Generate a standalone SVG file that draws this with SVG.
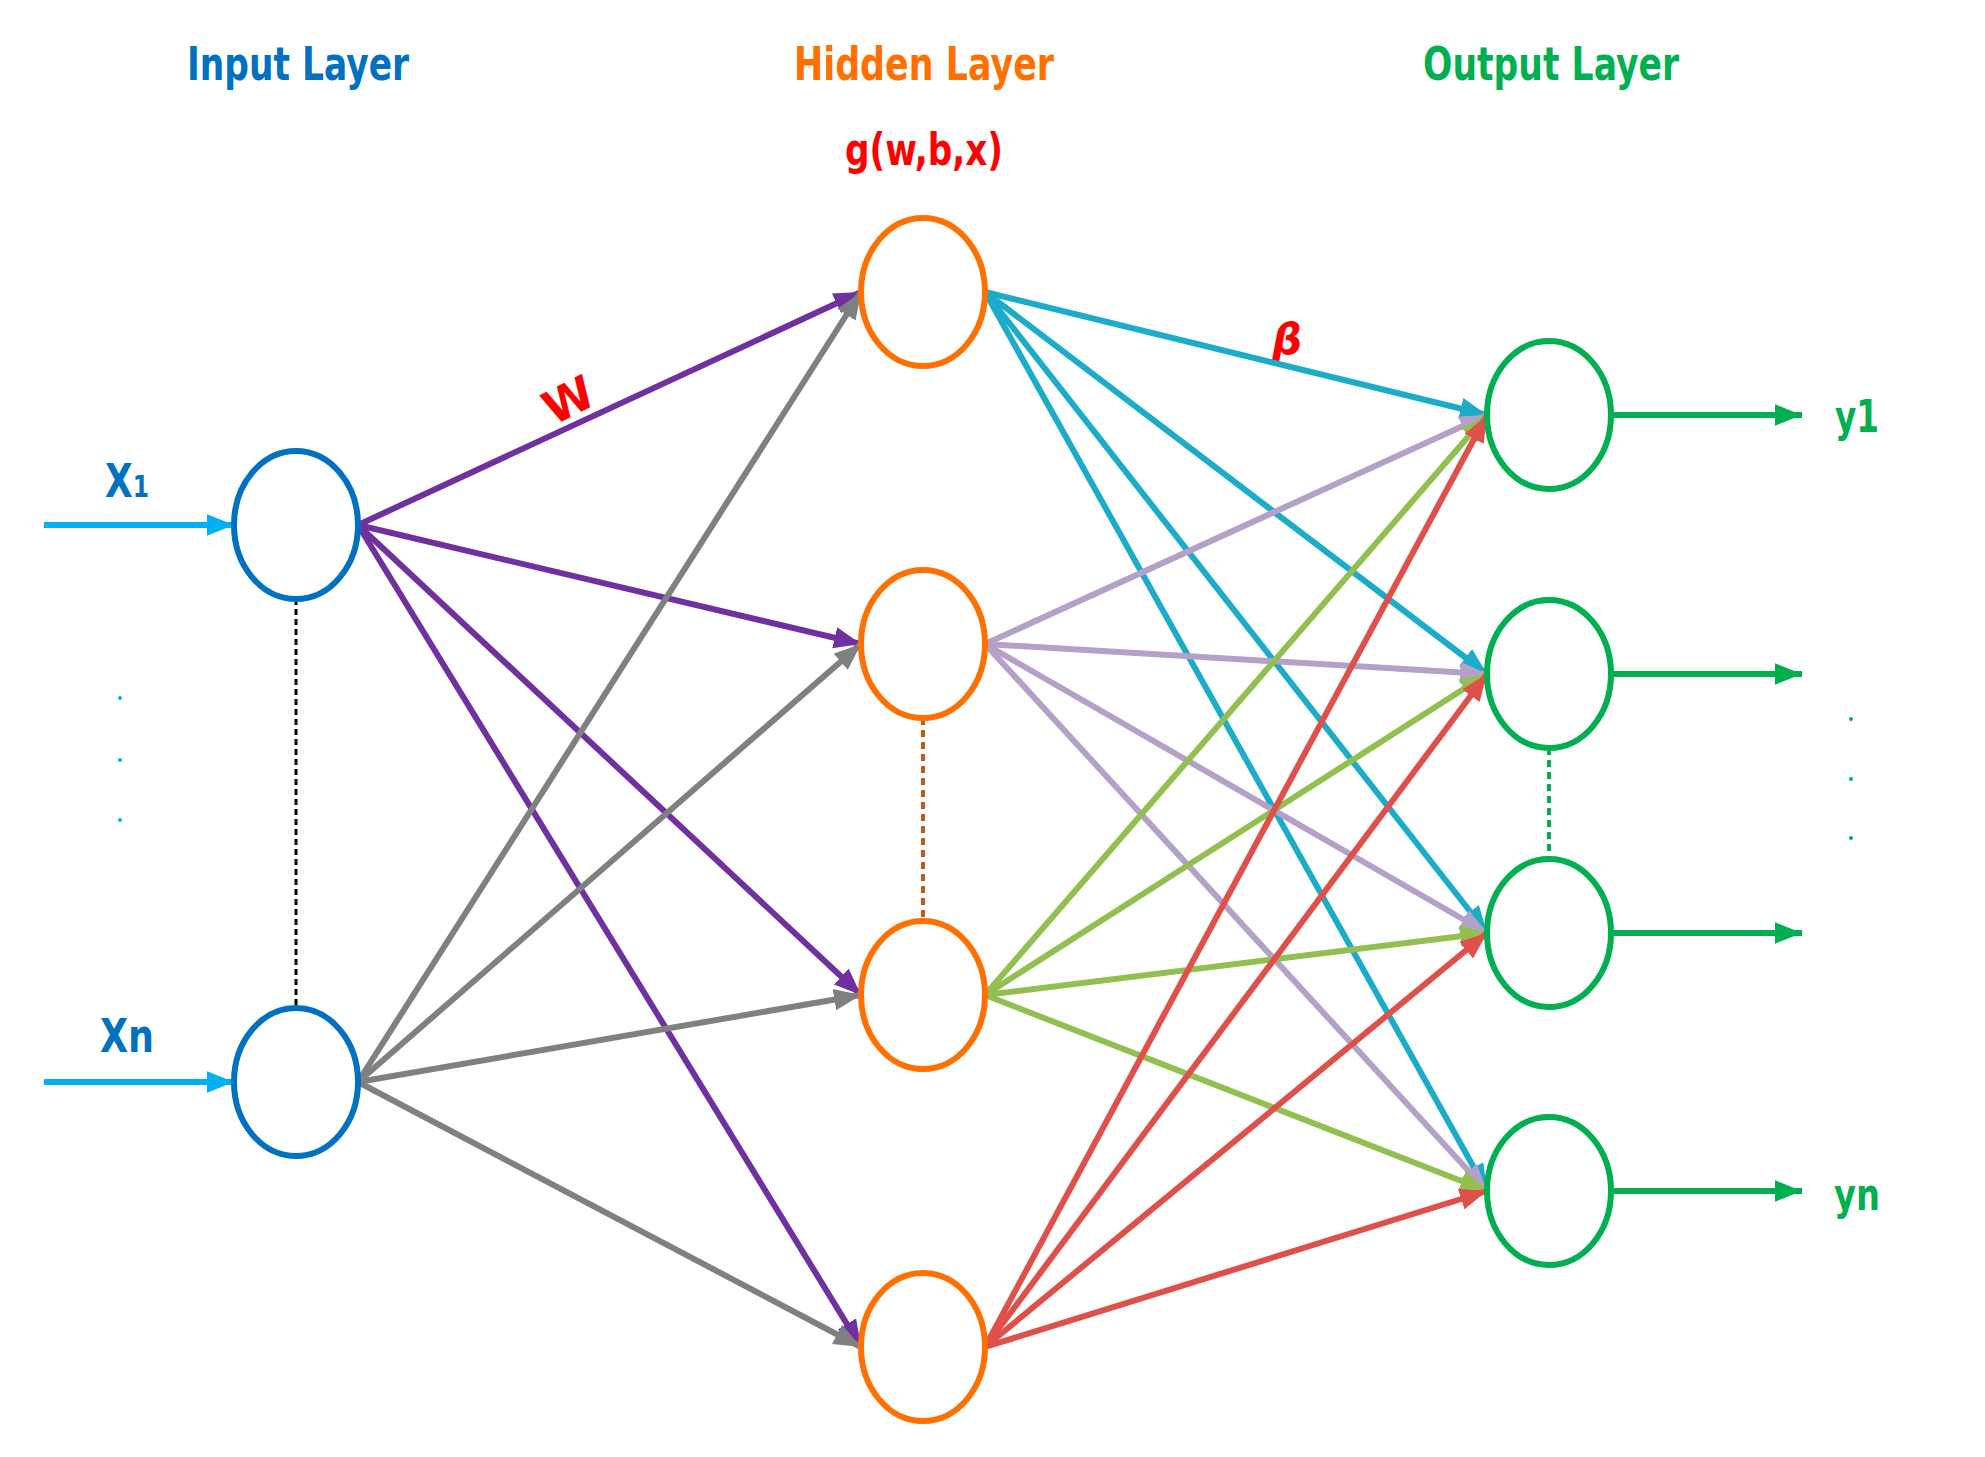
<svg xmlns="http://www.w3.org/2000/svg" width="1985" height="1457" viewBox="0 0 1985 1457">
<style>
.t{font-family:"DejaVu Sans","Liberation Sans",sans-serif;font-weight:bold;text-anchor:middle}
.n{fill:none;stroke-width:6}
.e{stroke-width:6;fill:none}
</style>
<defs>
<marker id="mP" markerWidth="4.5" markerHeight="3.6" refX="4.5" refY="1.8" orient="auto"><path d="M0,0L4.5,1.8L0,3.6z" fill="#7030A0"/></marker>
<marker id="mG" markerWidth="4.5" markerHeight="3.6" refX="4.5" refY="1.8" orient="auto"><path d="M0,0L4.5,1.8L0,3.6z" fill="#808080"/></marker>
<marker id="mT" markerWidth="4.5" markerHeight="3.6" refX="4.5" refY="1.8" orient="auto"><path d="M0,0L4.5,1.8L0,3.6z" fill="#1AACC8"/></marker>
<marker id="mL" markerWidth="4.5" markerHeight="3.6" refX="4.5" refY="1.8" orient="auto"><path d="M0,0L4.5,1.8L0,3.6z" fill="#B4A0C8"/></marker>
<marker id="mV" markerWidth="4.5" markerHeight="3.6" refX="4.5" refY="1.8" orient="auto"><path d="M0,0L4.5,1.8L0,3.6z" fill="#92C050"/></marker>
<marker id="mR" markerWidth="4.5" markerHeight="3.6" refX="4.5" refY="1.8" orient="auto"><path d="M0,0L4.5,1.8L0,3.6z" fill="#E0504A"/></marker>
<marker id="mB" markerWidth="4.5" markerHeight="3.6" refX="4.5" refY="1.8" orient="auto"><path d="M0,0L4.5,1.8L0,3.6z" fill="#00B0F0"/></marker>
<marker id="mO" markerWidth="4.5" markerHeight="3.6" refX="4.5" refY="1.8" orient="auto"><path d="M0,0L4.5,1.8L0,3.6z" fill="#00B050"/></marker>
</defs>
<g id="labels">
<text class="t" x="298" y="80" font-size="46" fill="#0070C0" textLength="222" lengthAdjust="spacingAndGlyphs">Input Layer</text>
<text class="t" x="924" y="80" font-size="46" fill="#FF7000" textLength="260" lengthAdjust="spacingAndGlyphs">Hidden Layer</text>
<text class="t" x="1551" y="80" font-size="46" fill="#00B050" textLength="256" lengthAdjust="spacingAndGlyphs">Output Layer</text>
<text class="t" x="924" y="165" font-size="44" fill="#FF0000" textLength="158" lengthAdjust="spacingAndGlyphs">g(w,b,x)</text>
<text class="t" x="570" y="416" font-size="46" fill="#FF0000" transform="rotate(-27 570 403)">W</text>
<text class="t" x="1287" y="354" font-size="42" fill="#FF0000" font-style="italic">β</text>
<text class="t" x="127" y="497" font-size="46" fill="#0070C0" textLength="44" lengthAdjust="spacingAndGlyphs">X<tspan font-size="30">1</tspan></text>
<text class="t" x="127" y="1052" font-size="46" fill="#0070C0" textLength="54" lengthAdjust="spacingAndGlyphs">Xn</text>
<text class="t" x="1857" y="432" font-size="44" fill="#00B050" textLength="44" lengthAdjust="spacingAndGlyphs">y1</text>
<text class="t" x="1857" y="1210" font-size="44" fill="#00B050" textLength="46" lengthAdjust="spacingAndGlyphs">yn</text>
<g fill="#00B0F0"><circle cx="120" cy="698" r="2"/><circle cx="120" cy="760" r="2"/><circle cx="120" cy="820" r="2"/></g>
<g fill="#00B050"><circle cx="1851" cy="719" r="2"/><circle cx="1851" cy="779" r="2"/><circle cx="1851" cy="838" r="2"/></g>
</g>
<g id="connectors">
<line x1="296" y1="599" x2="296" y2="1008" stroke="#000" stroke-width="3" stroke-dasharray="6,4"/>
<line x1="923" y1="718" x2="923" y2="921" stroke="#C55A11" stroke-width="4" stroke-dasharray="7,5"/>
<line x1="1549" y1="748" x2="1549" y2="859" stroke="#00B050" stroke-width="4" stroke-dasharray="7,5"/>
<g class="e" stroke="#00B0F0"><line x1="44" y1="525" x2="234" y2="525" marker-end="url(#mB)"/><line x1="44" y1="1082" x2="234" y2="1082" marker-end="url(#mB)"/></g>
<g class="e" stroke="#00B050"><line x1="1611" y1="415" x2="1802" y2="415" marker-end="url(#mO)"/><line x1="1611" y1="674" x2="1802" y2="674" marker-end="url(#mO)"/><line x1="1611" y1="933" x2="1802" y2="933" marker-end="url(#mO)"/><line x1="1611" y1="1191" x2="1802" y2="1191" marker-end="url(#mO)"/></g>
<g class="e" stroke="#7030A0"><line x1="358" y1="525" x2="861" y2="292" marker-end="url(#mP)"/><line x1="358" y1="525" x2="861" y2="644" marker-end="url(#mP)"/><line x1="358" y1="525" x2="861" y2="995" marker-end="url(#mP)"/><line x1="358" y1="525" x2="861" y2="1347" marker-end="url(#mP)"/></g>
<g class="e" stroke="#808080"><line x1="358" y1="1082" x2="861" y2="292" marker-end="url(#mG)"/><line x1="358" y1="1082" x2="861" y2="644" marker-end="url(#mG)"/><line x1="358" y1="1082" x2="861" y2="995" marker-end="url(#mG)"/><line x1="358" y1="1082" x2="861" y2="1347" marker-end="url(#mG)"/></g>
<g class="e" stroke="#1AACC8"><line x1="985" y1="292" x2="1487" y2="415" marker-end="url(#mT)"/><line x1="985" y1="292" x2="1487" y2="674" marker-end="url(#mT)"/><line x1="985" y1="292" x2="1487" y2="933" marker-end="url(#mT)"/><line x1="985" y1="292" x2="1487" y2="1191" marker-end="url(#mT)"/></g>
<g class="e" stroke="#B4A0C8"><line x1="985" y1="644" x2="1487" y2="415" marker-end="url(#mL)"/><line x1="985" y1="644" x2="1487" y2="674" marker-end="url(#mL)"/><line x1="985" y1="644" x2="1487" y2="933" marker-end="url(#mL)"/><line x1="985" y1="644" x2="1487" y2="1191" marker-end="url(#mL)"/></g>
<g class="e" stroke="#92C050"><line x1="985" y1="995" x2="1487" y2="415" marker-end="url(#mV)"/><line x1="985" y1="995" x2="1487" y2="674" marker-end="url(#mV)"/><line x1="985" y1="995" x2="1487" y2="933" marker-end="url(#mV)"/><line x1="985" y1="995" x2="1487" y2="1191" marker-end="url(#mV)"/></g>
<g class="e" stroke="#E0504A"><line x1="985" y1="1347" x2="1487" y2="415" marker-end="url(#mR)"/><line x1="985" y1="1347" x2="1487" y2="674" marker-end="url(#mR)"/><line x1="985" y1="1347" x2="1487" y2="933" marker-end="url(#mR)"/><line x1="985" y1="1347" x2="1487" y2="1191" marker-end="url(#mR)"/></g>
</g>
<g id="in1"><ellipse class="n" cx="296" cy="525" rx="62" ry="74" stroke="#0070C0"/></g>
<g id="inN"><ellipse class="n" cx="296" cy="1082" rx="62" ry="74" stroke="#0070C0"/></g>
<g id="h1"><ellipse class="n" cx="923" cy="292" rx="62" ry="74" stroke="#FF7000"/></g>
<g id="h2"><ellipse class="n" cx="923" cy="644" rx="62" ry="74" stroke="#FF7000"/></g>
<g id="h3"><ellipse class="n" cx="923" cy="995" rx="62" ry="74" stroke="#FF7000"/></g>
<g id="h4"><ellipse class="n" cx="923" cy="1347" rx="62" ry="74" stroke="#FF7000"/></g>
<g id="o1"><ellipse class="n" cx="1549" cy="415" rx="62" ry="74" stroke="#00B050"/></g>
<g id="o2"><ellipse class="n" cx="1549" cy="674" rx="62" ry="74" stroke="#00B050"/></g>
<g id="o3"><ellipse class="n" cx="1549" cy="933" rx="62" ry="74" stroke="#00B050"/></g>
<g id="o4"><ellipse class="n" cx="1549" cy="1191" rx="62" ry="74" stroke="#00B050"/></g>
</svg>
